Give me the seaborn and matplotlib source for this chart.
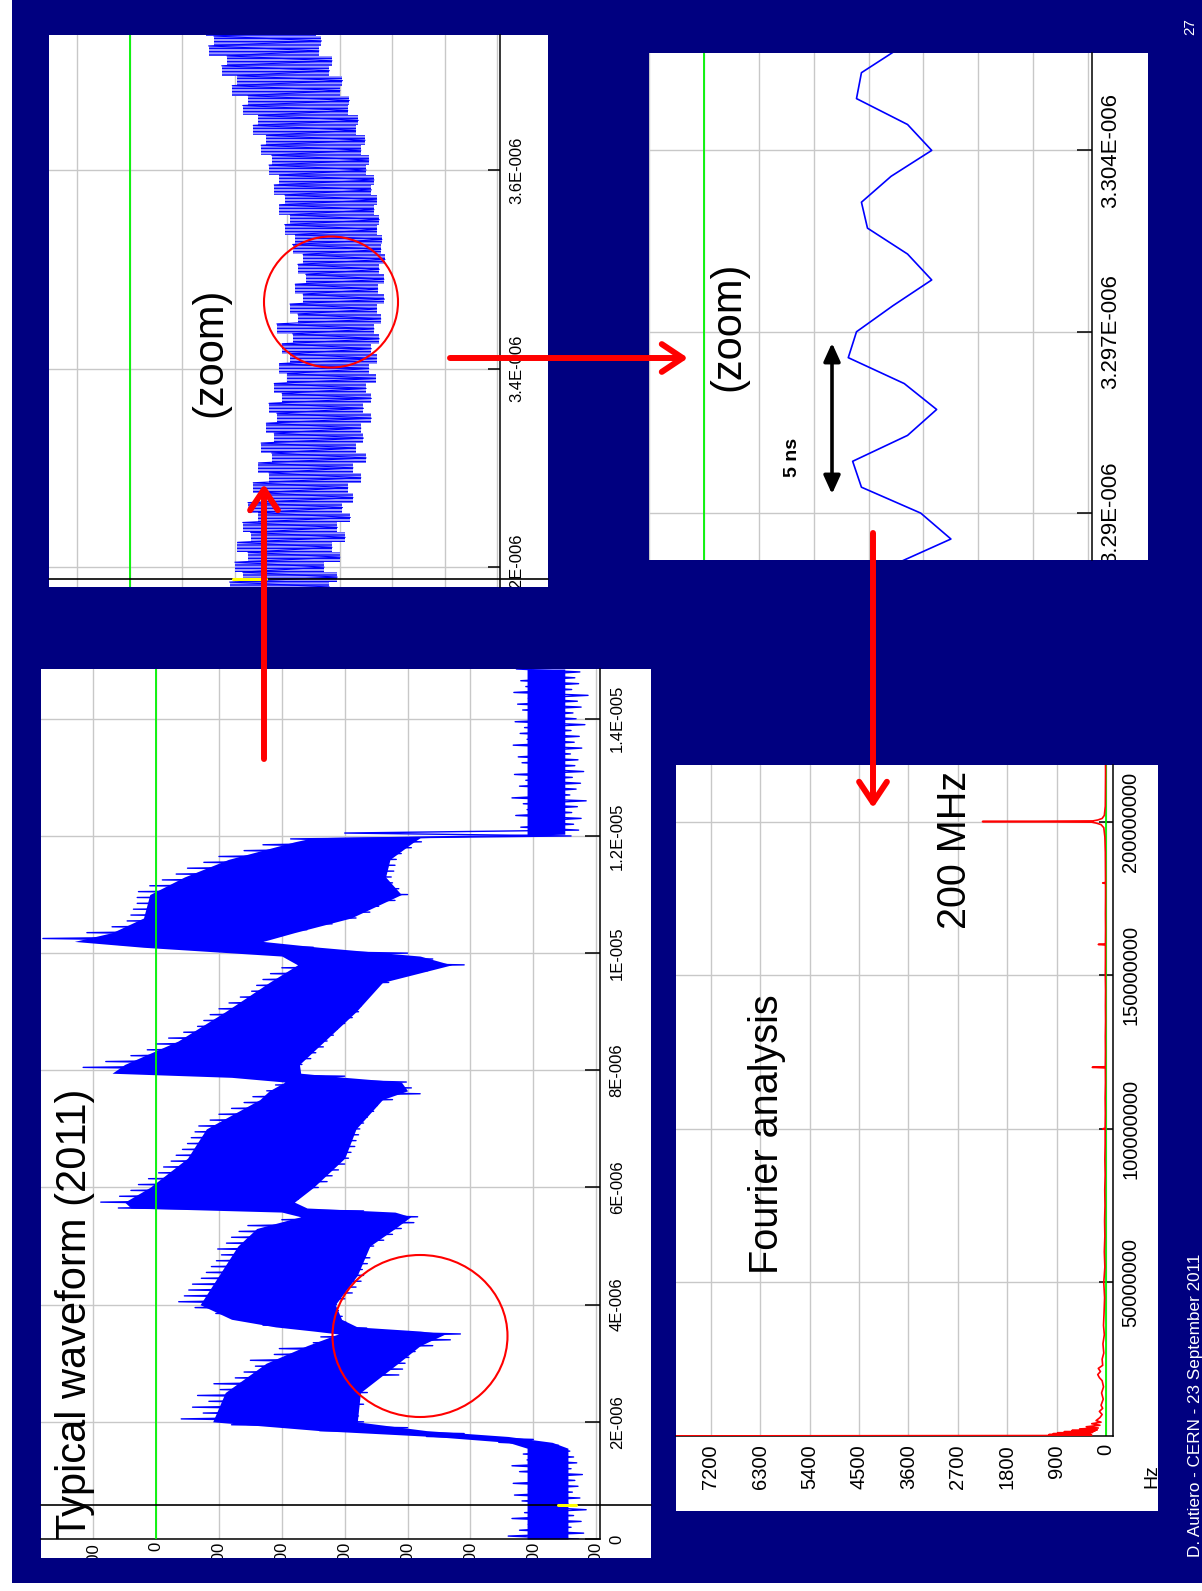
import numpy as np
import matplotlib
matplotlib.use("Agg")
import matplotlib.pyplot as plt
import seaborn as sns
from matplotlib.patches import Rectangle, Ellipse, FancyArrowPatch, ArrowStyle
from matplotlib.transforms import Bbox, TransformedBbox, blended_transform_factory

# ---------------------------------------------------------------- data
# Full record: extremes of the 200 MHz ripple, one knot every 0.1 us
wave_t_us = np.round(np.arange(0.0, 14.85, 0.1), 2)
wave_low = [-672, -680, -660, -676, -664, -684, -655, -674, -662, -671, -666, -678, -660, -669, -664, -658,
            -640, -600, -490, -400, -330,
            -322, -318, -330, -320, -336, -328, -345, -386, -392, -396, -402, -412, -440, -468, -484,
            -335, -302, -296, -290, -287, -300, -312, -318, -326, -330, -328, -336, -340, -334, -346, -362, -376, -390, -410, -416,
            -330, -215, -226, -236, -258, -272, -280, -290, -300, -306, -310, -316, -318, -322, -324, -330, -336, -346, -352, -376, -420, -406, -398,
            -300, -220, -232, -246, -254, -266, -272, -282, -288, -300, -312, -322, -326, -330, -336, -350, -370, -388, -432, -490, -440,
            -400, -250, -154, -200, -240, -280, -318, -340, -354, -380, -400, -386, -376, -374, -378, -380, -382, -390, -406, -422,
            -660,
            -672, -664, -676, -661, -670, -684, -658, -668, -675, -662, -680, -666, -671, -659, -677, -665, -673, -660, -682, -668,
            -663, -676, -670, -687, -661, -672, -666, -674]
wave_high = [-560, -578, -592, -566, -586, -600, -582, -570, -592, -568, -596, -578, -566, -590, -584, -598,
             -545, -430, -260, -120, -40,
             -75, -58, -84, -66, -102, -92, -126, -140, -158, -150, -188, -196, -250, -262, -286,
             -170, -150, -95, -62, -36, -45, -52, -58, -72, -80, -88, -96, -104, -98, -112, -120, -132, -146, -200, -222,
             60, 88, 58, 40, 28, 12, -4, -12, -24, -32, -42, -50, -56, -62, -68, -86, -100, -120, -140, -154, -176, -190, -202,
             20, 116, 80, 40, 14, 0, -20, -44, -66, -76, -86, -100, -116, -134, -152, -160, -170, -182, -200, -222, -204,
             -100, 60, 180, 110, 70, 46, 40, 36, 30, 30, 28, 10, -10, -32, -50, -76, -100, -140, -170, -214,
             -300,
             -580, -596, -572, -590, -584, -566, -598, -578, -588, -570, -594, -582, -576, -600, -568, -590, -579, -586, -571, -597,
             -583, -575, -592, -569, -588, -580, -594, -573]

# Solid body of the trace (where the ripple overlaps densely)
core_t_us = [0.0, 1.55, 1.65, 1.75, 1.85, 2.0, 2.5, 3.0, 3.3, 3.5, 3.55, 3.62, 3.75, 4.0, 4.5, 5.0, 5.3, 5.5,
             5.58, 5.65, 5.75, 6.0, 6.5, 7.0, 7.5, 7.65, 7.8, 7.88, 7.95, 8.1, 8.5, 9.0, 9.5, 9.8, 9.95, 10.1,
             10.2, 10.35, 10.6, 11.0, 11.3, 11.6, 11.9, 11.97, 12.03, 14.85]
core_low = [-655, -655, -630, -560, -430, -320, -325, -385, -420, -460, -420, -320, -295, -285, -320, -340, -380, -405,
            -380, -240, -220, -250, -300, -318, -360, -400, -390, -300, -230, -228, -268, -318, -360, -470, -420, -260,
            -170, -220, -310, -390, -365, -372, -410, -420, -650, -650]
core_high = [-590, -590, -560, -440, -260, -90, -110, -175, -240, -290, -250, -190, -120, -70, -100, -130, -160, -230,
             -200, 40, 50, 10, -50, -80, -165, -180, -205, -120, 70, 50, -35, -110, -180, -225, -200, 20,
             130, 70, 20, 10, -45, -115, -220, -250, -590, -590]

# Zoom around 3.2-3.74 us: ripple envelope every 10 ns
mid_t_us = np.round(np.arange(3.18, 3.745, 0.01), 2)
mid_high = [-190, -215, -200, -225, -205, -230, -215, -245, -225, -250, -235, -265, -245, -270, -250, -275, -260, -280,
            -265, -290, -275, -300, -285, -305, -290, -310, -280, -320, -305, -330, -315, -335, -320, -330, -310, -315,
            -295, -305, -285, -295, -275, -285, -265, -270, -250, -260, -235, -245, -215, -225, -195, -205, -175, -185,
            -150, -160, -145]
mid_low = [-380, -395, -370, -400, -385, -410, -395, -420, -405, -425, -415, -440, -425, -450, -430, -445, -440, -460,
           -445, -460, -450, -468, -455, -470, -460, -475, -465, -478, -470, -485, -472, -484, -475, -486, -478, -480,
           -470, -475, -465, -470, -460, -465, -450, -455, -440, -448, -430, -435, -415, -418, -400, -405, -380, -385,
           -360, -365, -355]

# Sample-by-sample view (1 ns sampling)
ns_t = np.arange(3288, 3309)
ns_amp = [-345, -450, -395, -287, -271, -371, -424, -365, -263, -278, -344, -415, -371, -298, -287, -341, -415,
          -371, -278, -287, -360]

# Spectrum of the full record
fft_freq_mhz = [0.0, 0.15, 0.3, 0.45, 0.6, 0.75, 0.9, 1.05, 1.2, 1.4,
                1.6, 1.8, 2.0, 2.3, 2.6, 3.0, 3.5, 4.0, 4.5, 5.0,
                6.0, 7.0, 8.0, 9.0, 10.0, 12.0, 14.0, 16.0, 18.0, 19.0,
                20.0, 21.0, 22.0, 23.0, 25.0, 27.0, 30.0, 33.0, 36.0, 40.0,
                45.0, 50.0, 55.0, 60.0, 65.0, 70.0, 75.0, 80.0, 85.0, 90.0,
                95.0, 99.8, 100.0, 100.2, 105.0, 110.0, 115.0, 119.8, 120.0, 120.2,
                125.0, 130.0, 135.0, 140.0, 145.0, 150.0, 155.0, 159.8, 160.0, 160.2,
                165.0, 170.0, 175.0, 179.8, 180.0, 180.2, 185.0, 190.0, 195.0, 198.0,
                199.0, 199.5, 199.8, 200.0, 200.2, 200.5, 201.0, 202.0, 205.0, 210.0,
                215.0, 218.4]
fft_amp = [9500, 1120, 260, 1040, 330, 960, 280, 880, 240, 760,
           200, 620, 160, 480, 140, 360, 110, 260, 90, 180,
           110, 70, 120, 60, 90, 50, 80, 45, 70, 120,
           150, 100, 140, 60, 70, 40, 55, 30, 45, 35,
           25, 40, 20, 30, 20, 25, 18, 22, 15, 20,
           15, 15, 60, 15, 12, 15, 10, 12, 250, 12,
           10, 12, 8, 10, 8, 12, 10, 10, 140, 10,
           8, 10, 8, 8, 60, 8, 10, 12, 20, 40,
           90, 180, 260, 2250, 240, 150, 70, 30, 12, 10,
           8, 8]

# tick values / labels
amp_ticks = [100, 0, -100, -200, -300, -400, -500, -600, -700]
amp_labels = ['100', '0', '-100', '-200', '-300', '-400', '-500', '-600', '-700']
time_ticks = [0, 2, 4, 6, 8, 10, 12, 14]
time_labels = ['0', '2E-006', '4E-006', '6E-006', '8E-006', '1E-005', '1.2E-005', '1.4E-005']
mid_ticks = [3.2, 3.4, 3.6]
mid_labels = ['3.2E-006', '3.4E-006', '3.6E-006']
ns_ticks = [3290, 3297, 3304]
ns_labels = ['3.29E-006', '3.297E-006', '3.304E-006']
fft_amp_ticks = [0, 900, 1800, 2700, 3600, 4500, 5400, 6300, 7200]
fft_amp_labels = ['0', '900', '1800', '2700', '3600', '4500', '5400', '6300', '7200']
fft_freq_ticks = [50, 100, 150, 200]
fft_freq_labels = ['50000000', '100000000', '150000000', '200000000']

# ---------------------------------------------------------------- style
sns.set_theme(style="white")
plt.rcParams['font.family'] = ['Liberation Sans', 'DejaVu Sans']

NAVY = '#000080'
BLUE = '#0000ff'
GRID = '#c8c8c8'
GREEN = '#00f500'
RED = '#ff0000'

plt.rcParams['hatch.color'] = BLUE
plt.rcParams['hatch.linewidth'] = 0.9

W, H = 1202, 1591
fig = plt.figure(figsize=(W / 100, H / 100), dpi=100)
fig.patch.set_facecolor('white')


def fx(x):
    return x / W


def fy(y):
    return 1.0 - y / H


def box(x0, y0, x1, y1):
    return [x0 / W, 1.0 - y1 / H, (x1 - x0) / W, (y1 - y0) / H]


fig.add_artist(Rectangle((fx(12), fy(1583)), 1 - fx(12), 1583 / H, transform=fig.transFigure,
                         facecolor=NAVY, edgecolor='none', zorder=-2))


def white_panel(x0, y0, x1, y1):
    fig.add_artist(Rectangle((fx(x0), fy(y1)), (x1 - x0) / W, (y1 - y0) / H, transform=fig.transFigure,
                             facecolor='white', edgecolor='none', zorder=-1))
    return TransformedBbox(Bbox.from_extents(fx(x0), fy(y1), fx(x1), fy(y0)), fig.transFigure)


def zigzag(t, low, high):
    step = np.diff(t).mean()
    tt = np.column_stack([t, t + step / 2]).ravel()
    aa = np.column_stack([low, high]).ravel()
    return aa, tt


def style_axes(ax, xlim, ylim, xticks, yticks, ylabels, ysize, ypad, ylen, clip,
               xlabels=None, xsize=11, xpad=3, xlen=9, bottom=True):
    ax.set_facecolor('none')
    ax.set_xlim(*xlim)
    ax.set_ylim(*ylim)
    ax.set_xticks(xticks)
    ax.set_yticks(yticks)
    ax.set_xlabel('')
    ax.set_ylabel('')
    ax.grid(True, color=GRID, linewidth=1.0)
    ax.set_axisbelow(True)
    ax.spines['left'].set_visible(False)
    ax.spines['top'].set_visible(False)
    ax.spines['right'].set_color('black')
    ax.spines['right'].set_linewidth(1.1)
    ax.spines['bottom'].set_color('black')
    ax.spines['bottom'].set_linewidth(1.1)
    ax.yaxis.tick_right()
    ax.set_yticklabels(ylabels, rotation=90, va='center', ha='left', fontsize=ysize)
    ax.tick_params(axis='y', direction='in', length=ylen, width=1.1, pad=ypad, colors='black',
                   left=False, right=True)
    if bottom and xlabels is not None:
        ax.set_xticklabels(xlabels, rotation=90, va='top', ha='center', fontsize=xsize)
        ax.tick_params(axis='x', direction='in', length=xlen, width=1.1, pad=xpad, colors='black')
    else:
        ax.spines['bottom'].set_visible(False)
        ax.tick_params(axis='x', length=0, labelbottom=False)
    for lab in ax.get_xticklabels() + ax.get_yticklabels():
        lab.set_clip_box(clip)
        lab.set_clip_on(True)


# ---------------------------------------------------------------- full waveform
clip1 = white_panel(41, 669, 651, 1558)
ax1 = fig.add_axes(box(41, 669, 600, 1539), zorder=1)
ax1.fill_betweenx(core_t_us, core_low, core_high, color=BLUE, linewidth=0, zorder=2)
zx, zy = zigzag(wave_t_us, wave_low, wave_high)
sns.lineplot(x=zx, y=zy, sort=False, estimator=None, color=BLUE, linewidth=1.0, ax=ax1, zorder=2)
ax1.axvline(0, color=GREEN, linewidth=1.3, zorder=3)
style_axes(ax1, (183, -706), (0, 14.85), amp_ticks, time_ticks, time_labels, 12, 7, 11, clip1,
           xlabels=amp_labels, xsize=12, xpad=2, xlen=9)
bt1 = blended_transform_factory(ax1.transAxes, ax1.transData)
ax1.plot([0, (651 - 41) / (600 - 41)], [0.58, 0.58], transform=bt1, color='black', lw=1.2,
         clip_on=False, zorder=4)
ax1.plot([-640, -668], [0.58, 0.58], color='#ffff00', lw=2.2, zorder=5)

# ---------------------------------------------------------------- zoom 3.2-3.7 us
clip2 = white_panel(49, 35, 548, 587)
ax2 = fig.add_axes(box(49, 35, 500, 587), zorder=1)
ax2.fill_betweenx(mid_t_us, mid_low, mid_high, step='mid', facecolor='#9a9aff', edgecolor=BLUE,
                  hatch='-----', linewidth=0, zorder=2)
zx, zy = zigzag(mid_t_us, mid_low, mid_high)
sns.lineplot(x=zx, y=zy, sort=False, estimator=None, color=BLUE, linewidth=0.8, ax=ax2, zorder=2)
ax2.axvline(0, color=GREEN, linewidth=1.3, zorder=3)
style_axes(ax2, (154, -705), (3.18, 3.736), amp_ticks, mid_ticks, mid_labels, 12, 7, 9, clip2,
           bottom=False)
bt2 = blended_transform_factory(ax2.transAxes, ax2.transData)
ax2.plot([0, (548 - 49) / (500 - 49)], [3.188, 3.188], transform=bt2, color='black', lw=1.2,
         clip_on=False, zorder=4)
ax2.plot([-196, -260], [3.188, 3.188], color='#ffff00', lw=2.2, zorder=5)

# ---------------------------------------------------------------- sample view
clip3 = white_panel(649, 53, 1148, 560)
ax3 = fig.add_axes(box(649, 53, 1092, 560), zorder=1)
sns.lineplot(x=ns_amp, y=ns_t, sort=False, estimator=None, color=BLUE, linewidth=1.2, ax=ax3, zorder=2)
ax3.axvline(0, color=GREEN, linewidth=1.3, zorder=3)
style_axes(ax3, (68, -707), (3288.19, 3307.76), amp_ticks, ns_ticks, ns_labels, 16, 6, 11, clip3,
           bottom=False)

# ---------------------------------------------------------------- spectrum
clip4 = white_panel(676, 765, 1158, 1511)
ax4 = fig.add_axes(box(676, 765, 1113, 1436), zorder=1)
ax4.axvline(0, color=GREEN, linewidth=1.3, zorder=2)
sns.lineplot(x=fft_amp, y=fft_freq_mhz, sort=False, estimator=None, color=RED, linewidth=1.2, ax=ax4,
             zorder=3)
style_axes(ax4, (7834, -128), (0, 218.4), fft_amp_ticks, fft_freq_ticks, fft_freq_labels, 14.5, 6, 10,
           clip4, xlabels=fft_amp_labels, xsize=14.5, xpad=6, xlen=12)

# ---------------------------------------------------------------- annotations
def label(x, y, s, size, ha='center', color='black', weight='normal'):
    fig.text(fx(x), fy(y), s, rotation=90, rotation_mode='anchor', ha=ha, va='baseline',
             fontsize=size, color=color, fontweight=weight, zorder=7)


label(86, 1314, 'Typical waveform (2011)', 30)
label(221, 352, '(zoom)', 30)
label(739, 326, '(zoom)', 30)
label(778, 1134, 'Fourier analysis', 28.5)
label(966, 850, '200 MHz', 28.5)
label(797, 457, '5 ns', 14, weight='bold')
label(1156, 1476, 'Hz', 14)
label(1200, 1557, 'D. Autiero - CERN - 23 September 2011', 12.3, ha='left', color='white')
label(1194, 27, '27', 11, color='white')


def arrow(p0, p1, style, color, lw):
    fig.add_artist(FancyArrowPatch((fx(p0[0]), fy(p0[1])), (fx(p1[0]), fy(p1[1])),
                                   transform=fig.transFigure, arrowstyle=style, mutation_scale=1,
                                   color=color, linewidth=lw, shrinkA=0, shrinkB=0, zorder=6))


red_head = ArrowStyle('->', head_length=15, head_width=10)
arrow((264, 759), (264, 484), red_head, RED, 4.3)
arrow((450, 358), (688, 358), red_head, RED, 4.3)
arrow((873, 533), (873, 808), red_head, RED, 4.3)
arrow((832, 494), (832, 343), ArrowStyle('<|-|>', head_length=11, head_width=5), 'black', 2.6)

for cx, cy, w, h in [(420, 1336, 175, 162), (331, 302, 134, 131)]:
    fig.add_artist(Ellipse((fx(cx), fy(cy)), w / W, h / H, transform=fig.transFigure, fill=False,
                           edgecolor=RED, linewidth=1.5, zorder=6))

fig.savefig('out.png', dpi=100, facecolor=fig.get_facecolor())
